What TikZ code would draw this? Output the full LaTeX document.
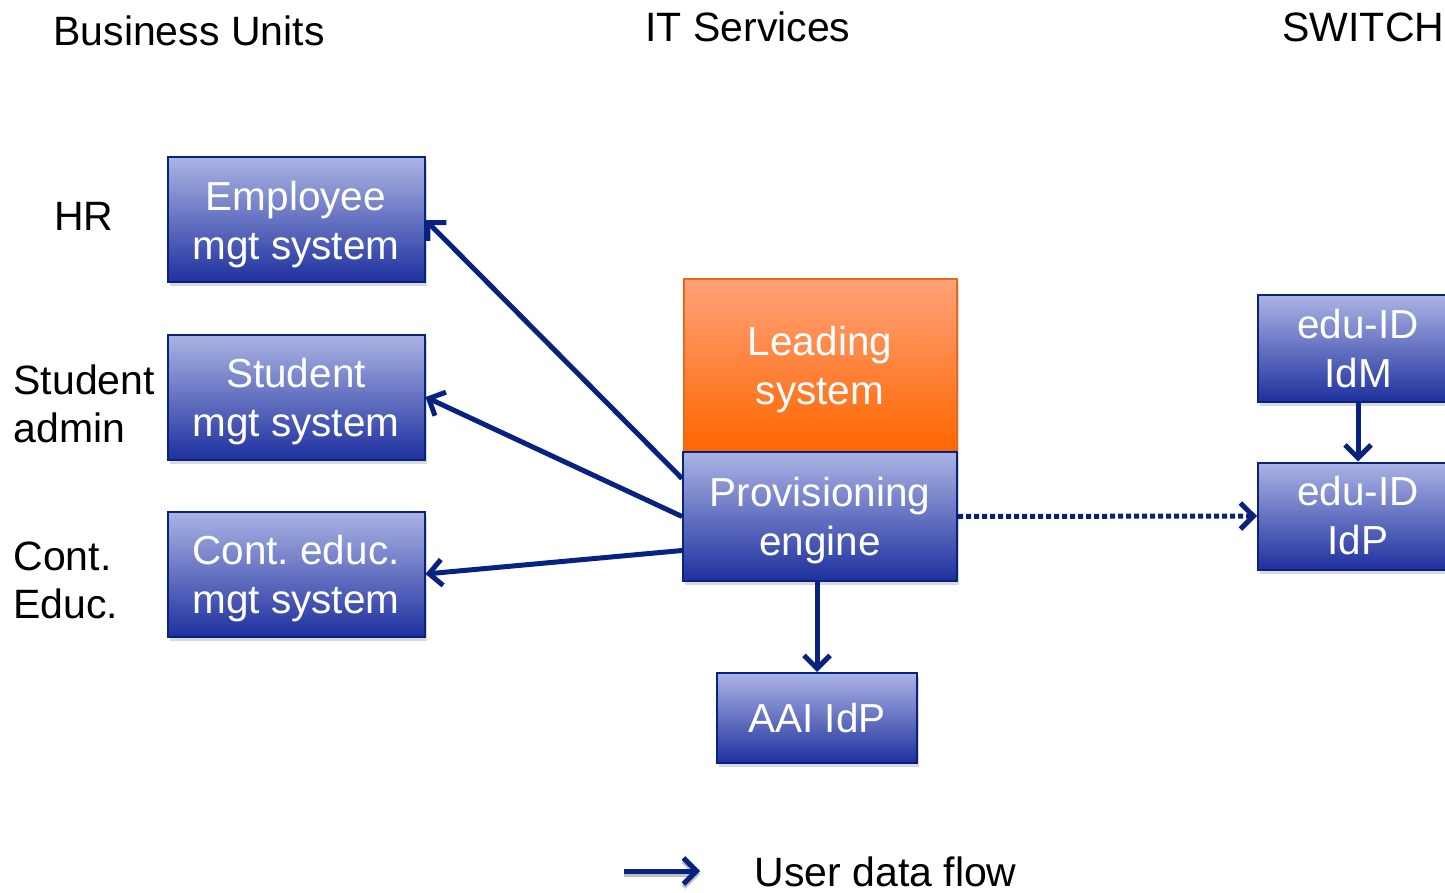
\documentclass[tikz,border=0pt]{standalone}
\usepackage{fontspec}
\setmainfont{Liberation Sans}
\frenchspacing
\usetikzlibrary{arrows.meta, shadows}
\definecolor{navy}{RGB}{8,34,128}
\definecolor{boxtop}{RGB}{172,180,228}
\definecolor{boxbot}{RGB}{30,48,158}
\definecolor{orgtop}{RGB}{255,162,122}
\definecolor{orgbot}{RGB}{255,102,0}
\definecolor{orgline}{RGB}{232,104,24}
\tikzstyle{sysbox} = [rectangle, minimum width=257pt, minimum height=125pt, inner sep=0pt, align=center, text=white, draw=navy, line width=2pt, top color=boxtop, bottom color=boxbot, drop shadow={opacity=0.3, shadow xshift=2pt, shadow yshift=-4pt}, font=\fontsize{40.5}{49}\selectfont]
\tikzstyle{twoline} = [text depth=0pt]
\tikzstyle{leadbox} = [sysbox, twoline, draw=orgline, top color=orgtop, bottom color=orgbot]
\tikzstyle{label} = [align=left, text=black, font=\fontsize{41}{48}\selectfont]
\tikzstyle{arrow} = [line width=5pt, draw=navy, -{Straight Barb[length=13pt, width=26pt, line width=5pt]}]
\tikzstyle{dotflow} = [arrow, dash pattern=on 5pt off 3pt]

\begin{document}
\begin{tikzpicture}[x=1pt, y=1pt, node distance=177pt]
    \useasboundingbox (0,0) rectangle (1445,-893);

    % Headings
    \node (busUnits) [label] at (189,-31) {Business Units};
    \node (itServices) [label] at (748,-27) {IT Services};
    \node (switch) [label, anchor=west] at (1279,-27) {SWITCH};

    % Business units
    \node (hr) [label] at (84,-216) {HR};
    \node (studAdmin) [label, anchor=west] at (10,-404) {Student\\admin};
    \node (contEduc) [label, anchor=west] at (10,-580) {Cont.\\Educ.};

    \node (employee) [sysbox, twoline] at (296,-220) {Employee\\mgt system};
    \node (student) [sysbox, twoline, below of=employee] {Student\\mgt system};
    \node (contSys) [sysbox, twoline, below of=student] {Cont. educ.\\mgt system};

    % IT services
    \node (leading) [leadbox, minimum width=273pt, minimum height=172pt] at (820,-365) {Leading\\system};
    \node (provEngine) [sysbox, twoline, minimum width=274pt, minimum height=129pt] at (820,-516.5) {Provisioning\\engine};
    \node (aaiIdp) [sysbox, minimum width=200pt, minimum height=90pt] at (817,-718) {AAI IdP};

    % SWITCH
    \node (eduIdm) [sysbox, minimum width=200pt, minimum height=107pt] at (1358,-348.5) {edu-ID\\IdM};
    \node (eduIdp) [sysbox, minimum width=200pt, minimum height=107pt] at (1358,-516) {edu-ID\\IdP};

    % Arrows
    \draw [arrow] ([yshift=38pt]provEngine.west) -- (employee.east);
    \draw [arrow] (provEngine.west) -- (student.east);
    \draw [arrow] ([yshift=-34pt]provEngine.west) -- (contSys.east);
    \draw [arrow] (aaiIdp.north |- provEngine.south) -- (aaiIdp.north);
    \draw [dotflow] (provEngine.east) -- (eduIdp.west);
    \draw [arrow] (eduIdm.south) -- (eduIdp.north);

    % Legend
    \coordinate (legStart) at (624,-871);
    \coordinate (legEnd) at (700,-871);
    \draw [arrow, preaction={draw=black!25, line width=5pt, transform canvas={yshift=-3pt}}] (legStart) -- (legEnd);
    \node (legText) [label, anchor=west] at (751,-872) {User data flow};

\end{tikzpicture}
\end{document}
